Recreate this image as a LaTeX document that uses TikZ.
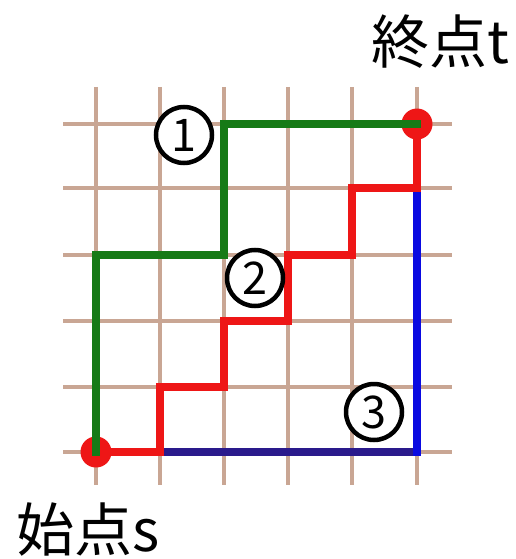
\documentclass[tikz,border=0pt]{standalone}
\usepackage{fontspec}
\newfontfamily\cjk{Noto Sans CJK JP}
\definecolor{gridc}{RGB}{201,166,148}
\definecolor{pgreen}{RGB}{22,122,22}
\definecolor{pred}{RGB}{238,22,22}
\definecolor{pblue}{RGB}{10,10,225}
\definecolor{pnavy}{RGB}{42,26,140}
\begin{document}
\begin{tikzpicture}[x=1pt,y=-1pt,
  gridline/.style={gridc,line width=4pt},
  pathline/.style={line width=8pt,line cap=rect,line join=miter},
  enddot/.style={circle,fill=pred,inner sep=0pt,minimum size=31pt},
  numcirc/.style={circle,draw=black,line width=4.5pt,fill=white,inner sep=0pt,minimum size=56pt,font=\cjk\fontsize{45}{45}\selectfont},
  lbl/.style={font=\cjk\fontsize{58}{60}\selectfont,inner sep=0pt}]
\useasboundingbox (0,0) rectangle (515,559);
\foreach \x in {96,160,224,288,352,417} \draw[gridline] (\x,87) -- (\x,485);
\foreach \y in {124,188,255,321,387,452} \draw[gridline] (63,\y) -- (452,\y);
\coordinate (s) at (96,452);
\coordinate (t) at (417,124);
\coordinate (b1) at (417,452);
\coordinate (r1) at (160,452);
\coordinate (r2) at (160,387);
\coordinate (r3) at (224,387);
\coordinate (r4) at (224,321);
\coordinate (r5) at (288,321);
\coordinate (r6) at (288,255);
\coordinate (r7) at (352,255);
\coordinate (r8) at (352,188);
\coordinate (r9) at (417,188);
\coordinate (g1) at (96,255);
\coordinate (g2) at (224,255);
\coordinate (g3) at (224,124);
\node[enddot] (ds) at (s) {};
\node[enddot] (dt) at (t) {};
% blue path
\draw[pathline,pnavy] (r1) -- (b1);
\draw[pathline,pblue] (b1) -- (r9);
% red path
\draw[pathline,pred] (s) -- (r1) -- (r2) -- (r3) -- (r4) -- (r5) -- (r6) -- (r7) -- (r8) -- (r9) -- (t);
% green path
\draw[pathline,pgreen] (s) -- (g1) -- (g2) -- (g3) -- (t);
\node[numcirc] (n1) at (184,135) {1};
\node[numcirc] (n2) at (255,278) {2};
\node[numcirc] (n3) at (374,412) {3};
\node[lbl] (lt) at (440,42) {終点t};
\node[lbl] (ls) at (88,530) {始点s};
\end{tikzpicture}
\end{document}
